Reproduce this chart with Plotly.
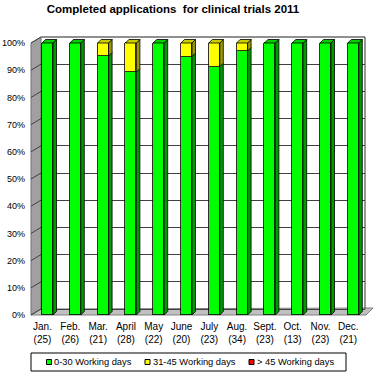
import plotly.graph_objects as go

# ---------------- data ----------------
months = ["Jan.", "Feb.", "Mar.", "April", "May", "June", "July", "Aug.",
          "Sept.", "Oct.", "Nov.", "Dec."]
totals = [25, 26, 21, 28, 22, 20, 23, 34, 23, 13, 23, 21]
d0_30 = [25, 26, 20, 25, 22, 19, 21, 33, 23, 13, 23, 21]
d31_45 = [0, 0, 1, 3, 0, 1, 2, 1, 0, 0, 0, 0]
d45 = [0, 0, 0, 0, 0, 0, 0, 0, 0, 0, 0, 0]
series_names = ["0-30 Working days", "31-45 Working days", "> 45 Working days"]
y_ticks = [0, 10, 20, 30, 40, 50, 60, 70, 80, 90, 100]
tick_labels = [f"{m}<br>({t})" for m, t in zip(months, totals)]

# ---------------- styling ----------------
front_cols = ["#00ff00", "#ffff00", "#ff0000"]
side_cols = ["#009900", "#999900", "#990000"]
top_cols = ["#00cc00", "#cccc00", "#cc0000"]
FONT = "Liberation Sans, Arial, sans-serif"

W, H = 383, 375
PL, PR, PT, PB = 41, 365, 37, 315          # plot area in px
ppx_cat = 27.8                              # px per category
x_lo = -6.5 / ppx_cat
x_hi = x_lo + (PR - PL) / ppx_cat
depth = 3.5                                 # 3-D depth in px
ppx_pct = 272 / 100.0                       # px per percent (front)
y_hi = (PB - PT) / ppx_pct
dep_pct = (PB - PT - 272) / ppx_pct         # back wall shift in %

bar_w = 11 / ppx_cat
dx = depth / ppx_cat
dy = depth / ppx_pct


def px2paper(px, py):
    return (px - PL) / (PR - PL), (PB - py) / (PB - PT)


fig = go.Figure()
series = [d0_30, d31_45, d45]
pcts = [[v / t * 100 for v, t in zip(s, totals)] for s in series]

for name, vals, col in zip(series_names, pcts, front_cols):
    fig.add_trace(go.Bar(x=months, y=vals, name=name, width=bar_w,
                         marker=dict(color=col, line=dict(color="black", width=0.8)),
                         showlegend=False, hoverinfo="x+y+name"))
# invisible trace to carry the back-wall grid axis
fig.add_trace(go.Scatter(x=[months[0]], y=[None], yaxis="y2", showlegend=False,
                         hoverinfo="skip", mode="markers"))

shapes = []
annotations = []
# left wall and floor (decoration)
wall = [px2paper(31, 315), px2paper(31, 43), px2paper(41, 37), px2paper(41, 309)]
shapes.append(dict(type="path", xref="paper", yref="paper", layer="below",
                   path="M" + " L".join(f"{a},{b}" for a, b in wall) + " Z",
                   fillcolor="#a0a0a0", line=dict(color="#707070", width=1)))
floor = [px2paper(31, 315), px2paper(41, 309), px2paper(373, 308), px2paper(366, 315)]
shapes.append(dict(type="path", xref="paper", yref="paper", layer="below",
                   path="M" + " L".join(f"{a},{b}" for a, b in floor) + " Z",
                   fillcolor="#c0c0c0", line=dict(color="#808080", width=1)))
# wall grid lines
for v in y_ticks:
    fy = PB - v * ppx_pct
    by = fy - (PB - 309)
    a0, b0 = px2paper(31, fy)
    a1, b1 = px2paper(41, by)
    shapes.append(dict(type="line", xref="paper", yref="paper", layer="below",
                       x0=a0, y0=b0, x1=a1, y1=b1, line=dict(color="#404040", width=1)))
# back wall border
a0, b0 = px2paper(41, 37)
a1, b1 = px2paper(365, 37)
shapes.append(dict(type="line", xref="paper", yref="paper", x0=a0, y0=b0, x1=a1, y1=b1,
                   line=dict(color="#909090", width=2), layer="below"))
a2, b2 = px2paper(365, 309)
shapes.append(dict(type="line", xref="paper", yref="paper", x0=a1, y0=b1, x1=a2, y1=b2,
                   line=dict(color="#303030", width=1), layer="below"))

# 3-D faces of bars
for i in range(len(months)):
    base = 0.0
    top_idx = max(k for k in range(3) if pcts[k][i] > 0)
    for k in range(3):
        v = pcts[k][i]
        if v <= 0:
            continue
        xr = i + bar_w / 2
        xl = i - bar_w / 2
        b, t = base, base + v
        shapes.append(dict(type="path", xref="x", yref="y", layer="above",
                           path=f"M{xr},{b} L{xr + dx},{b + dy} L{xr + dx},{t + dy} L{xr},{t} Z",
                           fillcolor=side_cols[k], line=dict(color="black", width=0.8)))
        if k == top_idx:
            shapes.append(dict(type="path", xref="x", yref="y", layer="above",
                               path=f"M{xl},{t} L{xl + dx},{t + dy} L{xr + dx},{t + dy} L{xr},{t} Z",
                               fillcolor=top_cols[k], line=dict(color="black", width=0.8)))
        base = t

# legend (box, keys, labels)
lb0 = px2paper(31, 371)
lb1 = px2paper(346, 353)
shapes.append(dict(type="rect", xref="paper", yref="paper", x0=lb0[0], y0=lb0[1],
                   x1=lb1[0], y1=lb1[1], line=dict(color="black", width=1),
                   fillcolor="white", layer="below"))
key_x = [49, 147.5, 251.5]
for kx, name, col in zip(key_x, series_names, front_cols):
    s0 = px2paper(kx - 2.5, 364.5)
    s1 = px2paper(kx + 2.5, 359.5)
    shapes.append(dict(type="rect", xref="paper", yref="paper", x0=s0[0], y0=s0[1],
                       x1=s1[0], y1=s1[1], fillcolor=col,
                       line=dict(color="black", width=1), layer="above"))
    tx, ty = px2paper(kx + 3, 362)
    annotations.append(dict(text=name, xref="paper", yref="paper", x=tx, y=ty,
                            xanchor="left", yanchor="middle", showarrow=False,
                            font=dict(family=FONT, size=9.3, color="black")))

fig.update_layout(
    width=W, height=H,
    margin=dict(l=PL, r=W - PR, t=PT, b=H - PB, pad=0, autoexpand=False),
    paper_bgcolor="white", plot_bgcolor="rgba(0,0,0,0)",
    barmode="stack", bargap=0, showlegend=False,
    font=dict(family=FONT, size=10, color="black"),
    title=dict(text="<b>Completed applications  for clinical trials 2011</b>",
               x=173 / W, xanchor="center", y=1 - 5 / H, yanchor="top",
               font=dict(family=FONT, size=11.5, color="black")),
    xaxis=dict(type="category", range=[x_lo, x_hi], tickvals=months, ticktext=tick_labels,
               showgrid=False, zeroline=False, showline=False, ticks="",
               ticklabelshift=-5, ticklabelstandoff=4, tickfont=dict(size=10)),
    yaxis=dict(range=[0, y_hi], tickvals=y_ticks, ticktext=[f"{v}%" for v in y_ticks],
               showgrid=False, zeroline=False, showline=False, ticks="",
               ticklabelstandoff=15, tickfont=dict(size=9)),
    yaxis2=dict(range=[-dep_pct, 100], overlaying="y", tickvals=y_ticks, showticklabels=False,
                showgrid=True, gridcolor="#404040", gridwidth=1, zeroline=False, ticks=""),
    shapes=shapes,
    annotations=annotations,
)

fig.write_html("out.html", config={"displayModeBar": False},
               post_script="document.body.style.margin='0';")
